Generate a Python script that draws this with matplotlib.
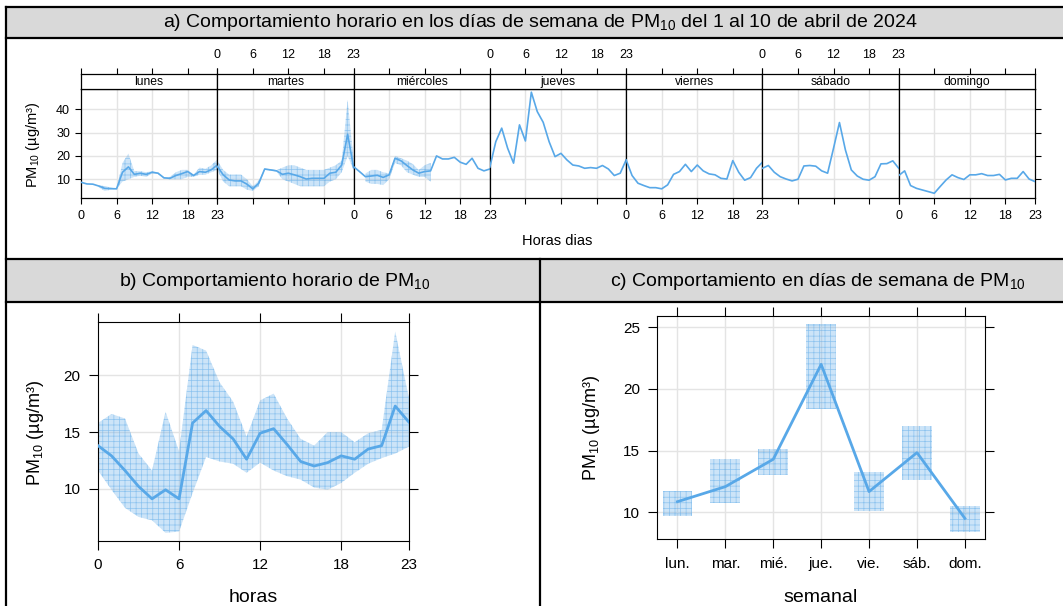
import numpy as np
import matplotlib
matplotlib.use("Agg")
import matplotlib.pyplot as plt
from matplotlib.patches import Rectangle

plt.rcParams['font.family'] = ['Liberation Sans', 'DejaVu Sans']
plt.rcParams['mathtext.fontset'] = 'custom'
plt.rcParams['mathtext.rm'] = 'Liberation Sans'
plt.rcParams['mathtext.it'] = 'Liberation Sans:italic'
plt.rcParams['hatch.linewidth'] = 0.5

# ---- data ----
horas = list(range(24))
dias = ['lunes', 'martes', 'miércoles', 'jueves', 'viernes', 'sábado', 'domingo']
nan = np.nan

lunes = [8.7, 8.0, 7.9, 7.1, 6.1, 6.0, 5.9, 13.0, 15.3, 12.1, 12.6, 12.1,
         13.0, 12.6, 10.6, 10.4, 11.6, 12.4, 13.3, 11.6, 13.3, 13.0, 14.1, 16.1]
lunes_lo = [nan, nan, nan, 6.5, 5.0, 5.5, 5.9, 9.0, 10.0, 11.0, 11.5, 11.0,
            12.5, 12.3, 10.3, 10.0, 10.0, 10.0, 11.0, 11.0, 12.0, 12.0, 13.0, 14.0]
lunes_hi = [nan, nan, nan, 7.5, 7.0, 6.5, 5.9, 17.0, 21.0, 13.5, 13.5, 13.0,
            13.5, 12.9, 10.9, 11.0, 13.0, 14.0, 14.0, 12.0, 15.0, 14.5, 16.0, 18.5]

martes = [15.5, 11.9, 9.7, 9.3, 9.3, 7.9, 5.9, 8.3, 14.4, 14.0, 13.6, 12.1,
          12.6, 11.9, 11.1, 10.1, 10.4, 10.4, 10.4, 12.6, 13.0, 16.1, 29.3, 15.0]
martes_lo = [14.0, 9.0, 7.0, 7.0, 7.0, 5.5, 5.0, 7.0, 14.0, 13.7, 13.3, 10.0,
             9.0, 8.0, 7.0, 7.0, 7.0, 7.0, 7.0, 9.0, 10.0, 13.0, 20.0, 14.0]
martes_hi = [18.0, 14.0, 12.0, 12.0, 12.0, 10.0, 7.0, 9.5, 14.6, 14.3, 13.9, 15.0,
             16.0, 16.0, 15.0, 14.0, 14.0, 14.0, 14.0, 15.0, 16.0, 18.0, 44.0, 18.0]

miercoles = [15.4, 13.3, 11.1, 11.4, 11.7, 10.8, 11.9, 19.0, 17.9, 15.9, 14.0, 12.6,
             13.3, 13.6, 20.0, 18.7, 18.7, 19.4, 17.3, 16.4, 19.0, 14.7, 13.6, 14.4]
miercoles_lo = [nan, nan, 9.0, 8.0, 8.0, 7.5, 10.0, 17.0, 16.0, 13.0, 12.0, 11.0,
                11.0, 9.0, nan, nan, nan, nan, nan, nan, nan, nan, nan, nan]
miercoles_hi = [nan, nan, 12.5, 14.0, 14.0, 13.0, 12.5, 20.0, 19.0, 18.0, 16.5, 14.0,
                16.0, 17.0, nan, nan, nan, nan, nan, nan, nan, nan, nan, nan]

jueves = [15.2, 26.1, 31.9, 23.3, 16.9, 33.3, 26.4, 47.3, 39.0, 34.4, 26.1, 19.7,
          21.1, 18.3, 16.1, 15.7, 14.7, 15.0, 14.7, 15.9, 14.4, 11.6, 12.6, 18.3]
viernes = [18.3, 11.6, 8.3, 7.3, 6.4, 6.4, 5.9, 7.6, 12.1, 13.3, 16.4, 13.3,
           16.1, 13.6, 12.3, 11.9, 10.4, 10.1, 18.0, 13.0, 9.6, 10.7, 14.7, 17.3]
sabado = [14.7, 15.9, 13.0, 11.1, 10.1, 9.3, 10.0, 15.7, 15.9, 15.6, 13.6, 12.6,
          23.3, 34.3, 22.6, 14.0, 11.4, 10.0, 9.6, 11.1, 16.6, 16.7, 17.9, 14.7]
domingo = [11.6, 13.6, 7.3, 6.1, 5.4, 4.7, 4.0, 6.9, 9.7, 11.9, 10.7, 9.9,
           11.9, 11.9, 12.4, 11.6, 11.6, 12.1, 9.7, 10.4, 10.4, 13.3, 10.1, 9.0]

hora_media = [13.8, 12.9, 11.6, 10.2, 9.1, 9.9, 9.1, 15.8, 16.9, 15.5, 14.4, 12.6,
              14.9, 15.3, 13.9, 12.4, 12.0, 12.3, 12.9, 12.6, 13.5, 13.8, 17.3, 15.9]
hora_lo = [11.6, 9.9, 8.3, 7.5, 7.2, 6.1, 6.2, 9.6, 12.8, 12.4, 12.2, 11.4,
           12.3, 11.6, 11.1, 10.8, 10.1, 9.9, 10.5, 11.4, 12.2, 12.7, 13.1, 13.7]
hora_hi = [15.8, 16.6, 16.2, 13.1, 11.6, 16.8, 13.3, 22.7, 22.2, 19.4, 17.7, 14.6,
           17.8, 18.4, 16.2, 14.4, 13.8, 15.0, 15.0, 14.1, 14.9, 15.2, 23.9, 18.1]

semana = ['lun.', 'mar.', 'mié.', 'jue.', 'vie.', 'sáb.', 'dom.']
semana_media = [10.86, 12.08, 14.3, 22.0, 11.68, 14.84, 9.51]
semana_lo = [9.73, 10.78, 13.05, 18.4, 10.14, 12.62, 8.43]
semana_hi = [11.7, 14.3, 15.14, 25.27, 13.27, 16.97, 10.51]

series = [lunes, martes, miercoles, jueves, viernes, sabado, domingo]
bands = {0: (lunes_lo, lunes_hi), 1: (martes_lo, martes_hi), 2: (miercoles_lo, miercoles_hi)}

# ---- styling ----
W, H = 1063, 606
LINE = '#58A8E8'
FILL = (0.35, 0.66, 0.91, 0.30)
HATCH_C = (0.35, 0.66, 0.91, 0.55)
GRID = '#e4e4e4'
STRIP_GREY = '#d9d9d9'
PM = r'PM$_\mathrm{10}$'

fig = plt.figure(figsize=(W / 100, H / 100), dpi=100)


def ax_px(x0, y0, x1, y1, **kw):
    return fig.add_axes([x0 / W, 1 - y1 / H, (x1 - x0) / W, (y1 - y0) / H], **kw)


def band(ax, x, lo, hi, **kw):
    ax.fill_between(x, lo, hi, facecolor=FILL, edgecolor=HATCH_C, hatch='+++',
                    linewidth=0, zorder=2, **kw)


# background frame, title strips and axis titles
bg = ax_px(0, 0, W, H, zorder=-5)
bg.set_xlim(0, W)
bg.set_ylim(H, 0)
bg.axis('off')
bg.add_patch(Rectangle((6, 7), W, 31, facecolor=STRIP_GREY, edgecolor='none'))
bg.add_patch(Rectangle((6, 258.5), W, 44, facecolor=STRIP_GREY, edgecolor='none'))
for y in (7, 37.7, 258.5, 302.3):
    bg.plot([6, W], [y, y], color='black', lw=1.6)
bg.plot([6, 6], [7, H], color='black', lw=1.6)
bg.plot([540, 540], [258.5, H], color='black', lw=1.6)
bg.text(540, 22.5, 'a) Comportamiento horario en los días de semana de ' + PM +
        ' del 1 al 10 de abril de 2024', ha='center', va='center', fontsize=14)
bg.text(275, 281, 'b) Comportamiento horario de ' + PM, ha='center', va='center', fontsize=14)
bg.text(818, 281, 'c) Comportamiento en días de semana de ' + PM, ha='center', va='center', fontsize=14)
bg.text(33, 145, PM + ' (µg/m³)', rotation=90, ha='center', va='center', fontsize=10.5)
bg.text(557, 241, 'Horas dias', ha='center', va='center', fontsize=10.5)
bg.text(35, 433, PM + ' (µg/m³)', rotation=90, ha='center', va='center', fontsize=13)
bg.text(591, 428, PM + ' (µg/m³)', rotation=90, ha='center', va='center', fontsize=13)
bg.text(253, 598, 'horas', ha='center', va='center', fontsize=14)
bg.text(821, 598, 'semanal', ha='center', va='center', fontsize=14)

# ---- panel a ----
x0a, x1a = 81, 1035
dw = (x1a - x0a) / 7
hticks = [0, 6, 12, 18, 23]
for i, (dia, vals) in enumerate(zip(dias, series)):
    xl = x0a + i * dw
    ax = ax_px(xl, 88.7, xl + dw, 197.7)
    ax.set_xlim(0, 23)
    ax.set_ylim(2.1, 48.8)
    for g in (6, 12, 18):
        ax.axvline(g, color=GRID, lw=1, zorder=0)
    for g in (10, 20, 30, 40):
        ax.axhline(g, color=GRID, lw=1, zorder=0)
    if i in bands:
        lo, hi = bands[i]
        band(ax, horas, lo, hi)
    ax.plot(horas, vals, color=LINE, lw=1.2, zorder=3)
    ax.set_xticks(hticks)
    ax.tick_params(axis='x', direction='out', length=4, width=0.8, pad=5,
                   labelsize=9, labelbottom=(i % 2 == 0))
    ax.set_yticks([10, 20, 30, 40])
    ax.tick_params(axis='y', direction='out', length=4.3, width=0.8, pad=3.5, labelsize=9,
                   left=(i == 0), labelleft=(i == 0), right=(i == 6), labelright=False)
    for s in ax.spines.values():
        s.set_linewidth(0.9)

    st = ax_px(xl, 74, xl + dw, 88.7)
    st.set_xlim(0, 23)
    st.set_ylim(0, 1)
    st.set_yticks([])
    st.set_xticks(hticks)
    st.xaxis.set_ticks_position('top')
    st.tick_params(axis='x', direction='out', length=4.3, width=0.8, pad=5,
                   labelsize=9, labeltop=(i % 2 == 1), labelbottom=False)
    st.text(11.5, 0.45, dia, ha='center', va='center', fontsize=8.7)
    for s in st.spines.values():
        s.set_linewidth(0.9)

# ---- panel b ----
axb = ax_px(98, 322.3, 408.7, 540.7)
axb.set_xlim(0, 23)
axb.set_ylim(5.4, 24.7)
for g in (6, 12, 18):
    axb.axvline(g, color=GRID, lw=1, zorder=0)
for g in (10, 15, 20):
    axb.axhline(g, color=GRID, lw=1, zorder=0)
band(axb, horas, hora_lo, hora_hi)
axb.plot(horas, hora_media, color=LINE, lw=2, zorder=3)
axb.set_xticks(hticks)
axb.set_yticks([10, 15, 20])
axb.tick_params(direction='out', length=6.5, width=0.8, labelsize=11, pad=6,
                top=True, right=True)

# ---- panel c ----
axc = ax_px(657.3, 316, 985, 539.3)
xs = np.arange(len(semana))
axc.set_xlim(-0.42, 6.42)
axc.set_ylim(7.81, 25.92)
for g in xs:
    axc.axvline(g, color=GRID, lw=1, zorder=0)
for g in (10, 15, 20, 25):
    axc.axhline(g, color=GRID, lw=1, zorder=0)
axc.bar(xs, np.array(semana_hi) - np.array(semana_lo), bottom=semana_lo, width=0.62,
        facecolor=FILL, edgecolor=HATCH_C, hatch='+++', linewidth=0, zorder=2)
axc.plot(xs, semana_media, color=LINE, lw=2, zorder=3)
axc.set_xticks(xs)
axc.set_xticklabels(semana)
axc.set_yticks([10, 15, 20, 25])
axc.tick_params(direction='out', length=6.5, width=0.8, labelsize=11, pad=6,
                top=True, right=True)

fig.savefig('out.png', dpi=100)
